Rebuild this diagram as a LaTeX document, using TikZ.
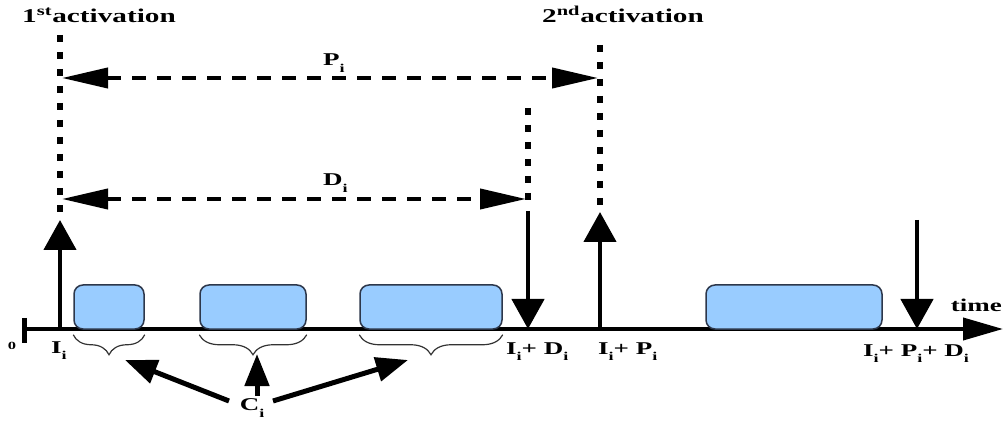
\documentclass[tikz,border=0pt]{standalone}
\usepackage{fontspec}
\setmainfont{Liberation Serif}
\usetikzlibrary{arrows.meta,decorations.pathreplacing}
\newcommand{\idx}{\raisebox{-0.8ex}{\fontsize{12}{12}\selectfont i}}
\newcommand{\wide}[1]{\scalebox{1.5}[1]{#1}}
\definecolor{taskfill}{RGB}{153,204,255}
\definecolor{taskedge}{RGB}{45,55,75}
\begin{document}
\begin{tikzpicture}[x=1pt,y=-1pt,
  every node/.style={inner sep=0pt},
  axisline/.style={line width=4pt, -{Triangle[length=40pt,width=22pt]}},
  dotline/.style={line width=6pt, dash pattern=on 7pt off 10pt},
  span/.style={line width=4pt, dash pattern=on 14pt off 11pt,
    {Triangle[length=46pt,width=20pt]}-{Triangle[length=46pt,width=20pt]}},
  event/.style={line width=4.5pt, -{Triangle[length=30pt,width=32pt]}},
  task/.style={draw=taskedge, fill=taskfill, line width=1.5pt,
    rounded corners=9pt, minimum height=44pt, inner sep=0pt},
  grp/.style={draw=black!80, line width=1.2pt, decorate,
    decoration={brace, mirror, amplitude=20pt, aspect=0.5}},
  pointer/.style={line width=5pt, -{Triangle[length=32pt,width=24pt]}},
  biglabel/.style={font=\fontsize{19.5}{19.5}\bfseries\selectfont},
  axlabel/.style={font=\fontsize{18}{18}\bfseries\selectfont},
]
\useasboundingbox (0,0) rectangle (1003,427);

% time axis
\coordinate (O) at (24,329);
\coordinate (E) at (1003,329);
\coordinate (t0) at (24,318);
\coordinate (t1) at (24,343);
\draw[axisline] (O) -- (E);
\draw[line width=5pt] (t0) -- (t1);

% jobs
\node[task, minimum width=70pt]  (job1) at (109,307) {};
\node[task, minimum width=106pt] (job2) at (253,307) {};
\node[task, minimum width=142pt] (job3) at (431,307) {};
\node[task, minimum width=176pt] (job4) at (794,307) {};

% braces under the first three jobs
\draw[grp] ([yshift=-5pt]job1.south west) -- ([yshift=-5pt]job1.south east);
\draw[grp] ([yshift=-5pt]job2.south west) -- ([yshift=-5pt]job2.south east);
\draw[grp] ([yshift=-5pt]job3.south west) -- ([yshift=-5pt]job3.south east);

% first activation
\coordinate (r1) at (60,329);
\coordinate (r1top) at (60,220);
\coordinate (r1d0) at (60,35);
\coordinate (r1d1) at (60,214);
\draw[dotline] (r1d0) -- (r1d1);
\draw[event] (r1) -- (r1top);

% first deadline
\coordinate (d1) at (528,329);
\coordinate (d1top) at (528,211);
\coordinate (d1d0) at (528,108);
\coordinate (d1d1) at (528,205);
\draw[dotline] (d1d0) -- (d1d1);
\draw[event] (d1top) -- (d1);

% second activation
\coordinate (r2) at (600,329);
\coordinate (r2top) at (600,212);
\coordinate (r2d0) at (600,45);
\coordinate (r2d1) at (600,206);
\draw[dotline] (r2d0) -- (r2d1);
\draw[event] (r2) -- (r2top);

% second deadline
\coordinate (d2) at (917,329);
\coordinate (d2top) at (917,220);
\draw[event] (d2top) -- (d2);

% period and deadline spans
\coordinate (pa) at (62,78);
\coordinate (pb) at (598,78);
\coordinate (da) at (62,199);
\coordinate (db) at (526,199);
\draw[span] (pa) -- (pb);
\draw[span] (da) -- (db);
\node[axlabel, anchor=base west] (plab) at (323,66) {\wide{P\idx}};
\node[axlabel, anchor=base west] (dlab) at (323,186) {\wide{D\idx}};

% activation captions
\node[biglabel, anchor=base west] (act1) at (22,23) {\wide{1\textsuperscript{st}activation}};
\node[biglabel, anchor=base west] (act2) at (542,23) {\wide{2\textsuperscript{nd}activation}};

% axis labels
\node[font=\fontsize{11}{11}\bfseries\selectfont] (zero) at (12,346) {\wide{0}};
\node[axlabel, anchor=base west] (lI)   at (51,353)  {\wide{I\idx}};
\node[axlabel, anchor=base west] (lID)  at (506,354) {\wide{I\idx+ D\idx}};
\node[axlabel, anchor=base west] (lIP)  at (598,354) {\wide{I\idx+ P\idx}};
\node[axlabel, anchor=base west] (lIPD) at (863,356) {\wide{I\idx+ P\idx+ D\idx}};
\node[axlabel, anchor=base east] (tlab) at (1002,312) {\wide{time}};

% computation times
\node[axlabel] (ci) at (252,408) {\wide{C\idx}};
\coordinate (c1s) at (229,401);
\coordinate (c1e) at (125,360);
\coordinate (c2s) at (257,396);
\coordinate (c2e) at (257,354);
\coordinate (c3s) at (273,401);
\coordinate (c3e) at (408,360);
\draw[pointer] (c1s) -- (c1e);
\draw[pointer] (c2s) -- (c2e);
\draw[pointer] (c3s) -- (c3e);
\end{tikzpicture}
\end{document}
